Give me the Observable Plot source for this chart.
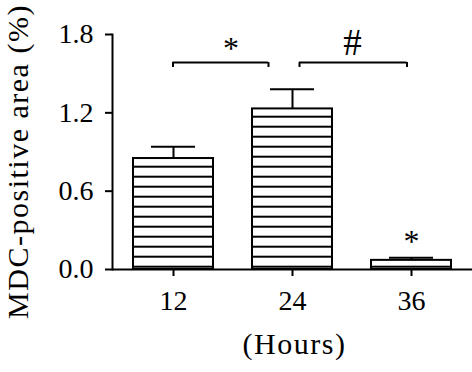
<!DOCTYPE html>
<html><head><meta charset="utf-8">
<script src="https://cdn.jsdelivr.net/npm/d3@7"></script>
<script src="https://cdn.jsdelivr.net/npm/@observablehq/plot@0.6"></script>
<style>
html,body{margin:0;padding:0;background:#fff;}
</style></head><body><div id="chart"></div>
<script>
// ---- data ----
const hours = ["12", "24", "36"];
const means = [0.85, 1.23, 0.07];
const sems = [0.09, 0.15, 0.02];
const yTicks = [0, 0.6, 1.2, 1.8];
const yTitle = "MDC-positive area (%)";
const xTitle = "(Hours)";
const brackets = [
  {from: "12", to: "24", y: 1.585, yEnd: 1.547, label: "*"},
  {from: "24", to: "36", y: 1.585, yEnd: 1.547, label: "#"}
];
const marked = [{hour: "36", label: "*"}];

// ---- layout (pixel offsets of bracket ends) ----
const bracketLayout = [
  {insetLeft: 39.5, insetRight: 64, dxFrom: -0.5, dxTo: -24},
  {insetLeft: 47, insetRight: 44.5, dxFrom: 7, dxTo: -4.5}
];

const table = hours.map((h, i) => ({hour: h, value: means[i], top: means[i] + sems[i]}));
const topOf = Object.fromEntries(table.map(d => [d.hour, d.top]));
const serif = "'Liberation Serif', 'Times New Roman', serif";

const bracketMarks = brackets.flatMap((b, i) => {
  const L = bracketLayout[i];
  return [
    Plot.ruleY([b], {x1: "from", x2: "to", y: "y", insetLeft: L.insetLeft, insetRight: L.insetRight, stroke: "black", strokeWidth: 2}),
    Plot.ruleX([b], {x: "from", y1: "yEnd", y2: "y", dx: L.dxFrom, stroke: "black", strokeWidth: 2}),
    Plot.ruleX([b], {x: "to", y1: "yEnd", y2: "y", dx: L.dxTo, stroke: "black", strokeWidth: 2})
  ];
});

const chart = Plot.plot({
  width: 472, height: 372,
  marginLeft: 112, marginRight: 0, marginTop: 34, marginBottom: 103,
  style: {fontFamily: serif, color: "black", background: "white", overflow: "visible"},
  x: {domain: hours, paddingInner: 0.331, paddingOuter: 0.172, axis: null},
  y: {domain: [0, 1.8], axis: null},
  marks: [
    Plot.barY(table, {x: "hour", y: "value", fill: "url(#hstripes)", stroke: "black", strokeWidth: 2}),
    Plot.ruleX(table, {x: "hour", y1: "value", y2: "top", stroke: "black", strokeWidth: 2}),
    Plot.tickY(table, {x: "hour", y: "top", insetLeft: 18, insetRight: 18, stroke: "black", strokeWidth: 2}),
    Plot.ruleY([0], {stroke: "black", strokeWidth: 2}),
    Plot.frame({anchor: "left", stroke: "black", strokeWidth: 2}),
    Plot.axisY({ticks: yTicks, tickFormat: d => d.toFixed(1), tickSize: 7, tickPadding: 12, fontSize: 28, strokeWidth: 2, label: null}),
    Plot.axisX({tickSize: 7, tickPadding: 14, fontSize: 28, strokeWidth: 2, label: null}),
    ...bracketMarks,
    Plot.text(brackets.filter(b => b.label === "*"), {x: "from", y: "y", text: "label", dx: 57.5, dy: -4, lineAnchor: "bottom", fontSize: 32}),
    Plot.text(brackets.filter(b => b.label === "#"), {x: "from", y: "y", text: "label", dx: 60, dy: -8, lineAnchor: "bottom", fontSize: 37}),
    Plot.text(marked, {x: "hour", y: d => topOf[d.hour], text: "label", dy: -6, lineAnchor: "bottom", fontSize: 32}),
    Plot.text([yTitle], {text: d => d, frameAnchor: "left", rotate: -90, dx: -85, dy: 9.5, lineAnchor: "bottom", textAnchor: "middle", fontSize: 30}),
    Plot.text([xTitle], {text: d => d, frameAnchor: "bottom", dx: 2, dy: 84, lineAnchor: "bottom", fontSize: 30})
  ]
});

const defs = d3.select(chart).insert("defs", ":first-child");
const pat = defs.append("pattern").attr("id", "hstripes").attr("patternUnits", "userSpaceOnUse").attr("width", 10).attr("height", 10);
pat.append("rect").attr("width", 10).attr("height", 10).attr("fill", "white");
pat.append("rect").attr("y", 5.7).attr("width", 10).attr("height", 2).attr("fill", "black");

d3.select(chart).selectAll("text")
  .filter(function () { return this.textContent === yTitle || this.textContent === xTitle; })
  .attr("letter-spacing", "1.5px");

document.getElementById("chart").appendChild(chart);
</script></body></html>
